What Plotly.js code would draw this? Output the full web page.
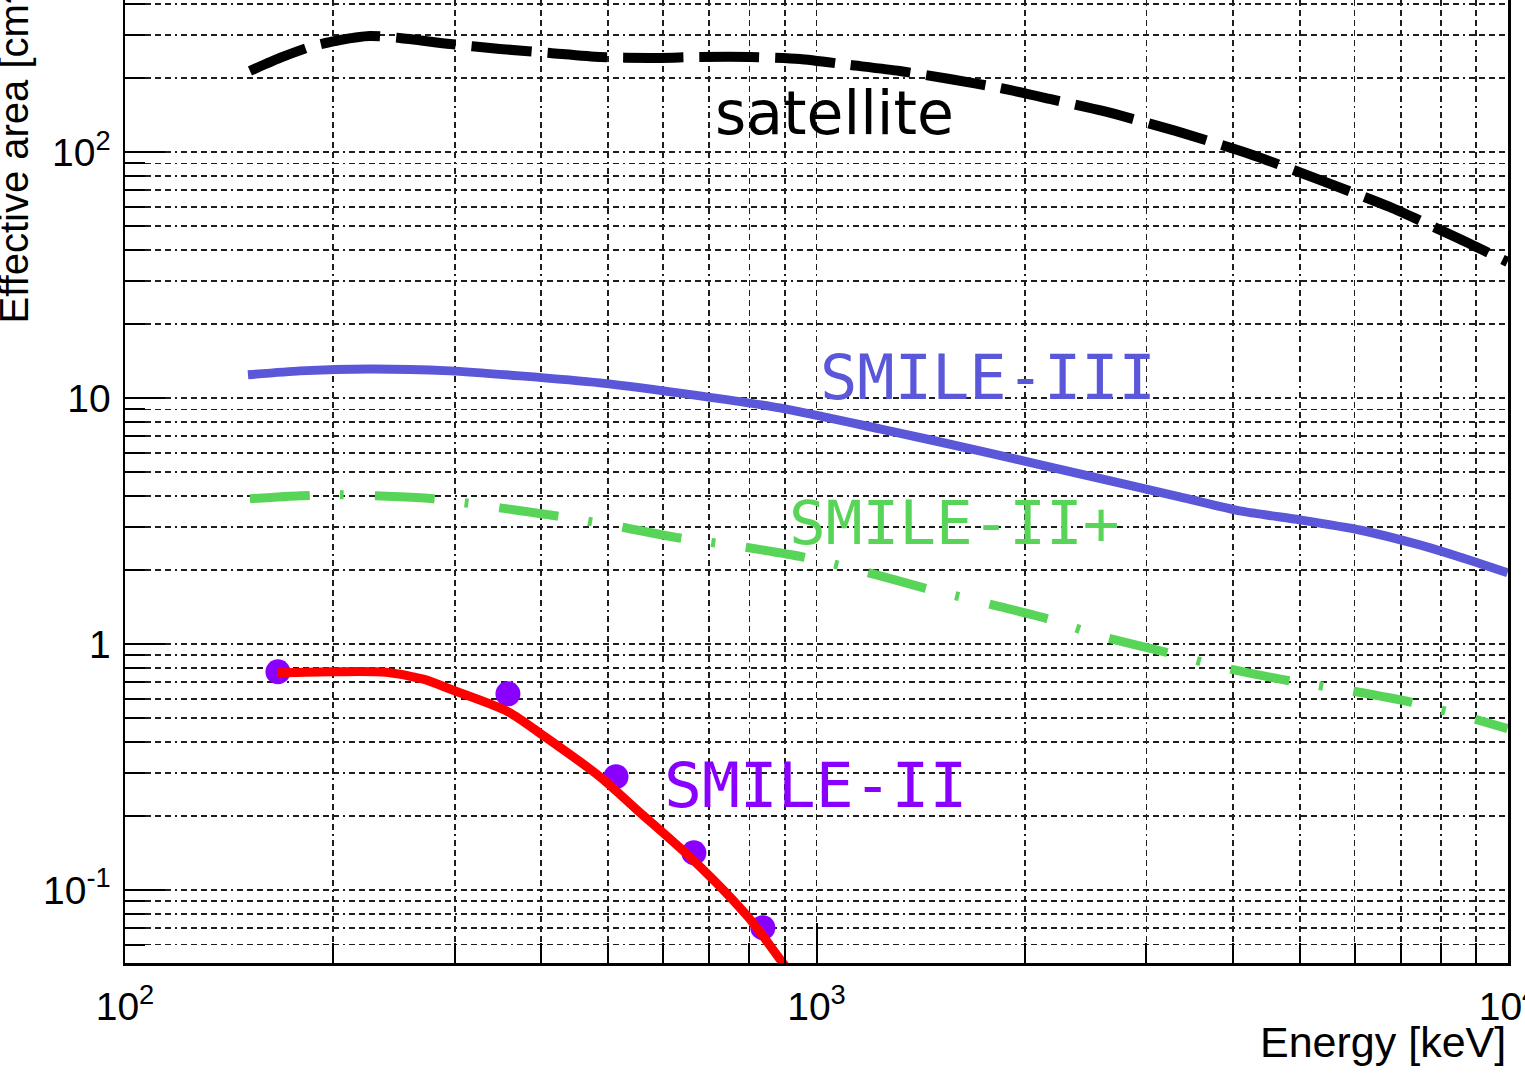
<!DOCTYPE html>
<html>
<head>
<meta charset="utf-8">
<script src="https://cdn.plot.ly/plotly-3.0.1.min.js"></script>
<style>html,body{margin:0;padding:0;background:#fff;overflow:hidden;}#chart{width:1525px;height:1078px;}</style>
</head>
<body>
<div id="chart"></div>
<script>
// ---- data ----
const satE = [151.6,167.5,185.1,204.6,226.1,249.7,295.1,348.5,411.6,486.1,574.1,678.1,800.9,946,1117,1319,1558,1841,2174,2594,3306,4230,5341,6743,8455,9986];
const satA = [214.0,241.7,267.9,286.1,297.0,291.5,275.5,263.0,253.3,244.0,241.7,244.0,244.0,239.5,226.4,214.0,198.6,182.5,164.7,147.2,122.1,98.4,77.2,59.9,44.8,35.8];

const s3E = [150.6,179.1,226.1,295.1,372.5,486.1,678.1,885.0,1235,1722,2403,3351,4093,4996,6103,7452,8511,9986];
const s3A = [12.44,12.91,13.15,12.91,12.32,11.54,10.22,9.13,7.50,6.11,4.92,3.97,3.48,3.20,2.91,2.53,2.26,1.95];

const s2pE = [151.6,179.1,204.6,249.7,278.8,311.2,348.5,421.3,519.4,634.4,779.8,955.4,1174,1434,1841,2174,2568,3188,3893,4834,5805,7207,8800,9986];
const s2pA = [3.90,4.01,4.05,3.97,3.90,3.75,3.58,3.32,3.00,2.70,2.49,2.26,1.97,1.69,1.42,1.26,1.08,0.930,0.801,0.709,0.652,0.582,0.502,0.453];

const s2FitE = [166.4,200.6,238.4,270.0,297.0,357.9,404.8,486.1,549.9,662.6,795.6,891.1,946];
const s2FitA = [0.764,0.772,0.768,0.720,0.652,0.531,0.420,0.289,0.212,0.1328,0.0779,0.0511,0.041];

const s2PtE = [166.4,357.9,512.9,664.8,836.3];
const s2PtA = [0.772,0.628,0.289,0.1418,0.0703];

const xMajorVals = [100,1000,10000];
const xMajorText = ['10<sup>2</sup>','10<sup>3</sup>','10<sup>4</sup>'];
const xMinorVals = [200,300,400,500,600,700,800,900,2000,3000,4000,5000,6000,7000,8000,9000];
const yMajorVals = [0.1,1,10,100];
const yMajorText = ['10<sup>-1</sup>','1','10','10<sup>2</sup>'];
const yMinorVals = [0.06,0.07,0.08,0.09,0.2,0.3,0.4,0.5,0.6,0.7,0.8,0.9,2,3,4,5,6,7,8,9,20,30,40,50,60,70,80,90,200,300,400];

const labelText = ['satellite','SMILE-III','SMILE-II+','SMILE-II'];

// ---- styling ----
const gridDash = '6px,4px,6px,4px,6px,4px,6px,4px,6px,4px,2px,4px';
const gridColor = '#1e1e1e';
const axisFont = {family:'"Liberation Sans", Arial, sans-serif', size:39, color:'#000'};

const traces = [
  {x:satE, y:satA, mode:'lines', line:{color:'#000', width:10, dash:'60px,16px', shape:'spline', smoothing:0.6}, hoverinfo:'skip'},
  {x:s3E, y:s3A, mode:'lines', line:{color:'#5b57d9', width:9, shape:'spline', smoothing:0.6}, hoverinfo:'skip'},
  {x:s2pE, y:s2pA, mode:'lines', line:{color:'#58d558', width:9, dash:'60px,30px,4px,31px', shape:'spline', smoothing:0.6}, hoverinfo:'skip'},
  {x:s2PtE, y:s2PtA, mode:'markers', marker:{color:'#8a00ff', size:25}, hoverinfo:'skip'},
  {x:s2FitE, y:s2FitA, mode:'lines', line:{color:'#ff0000', width:9, shape:'spline', smoothing:0.8}, hoverinfo:'skip'}
];

const axCommon = {
  type:'log', ticks:'inside', ticklen:40, tickwidth:2, tickcolor:'#000',
  showgrid:true, gridcolor:gridColor, gridwidth:1.8, griddash:gridDash,
  showline:true, linecolor:'#000', linewidth:2.5, zeroline:false,
  tickfont:axisFont, automargin:false, tickmode:'array', ticklabeloverflow:'allow'
};

const layout = {
  width:1525, height:1078,
  margin:{l:125, r:17, t:0, b:115},
  paper_bgcolor:'#fff', plot_bgcolor:'#fff',
  showlegend:false,
  xaxis:Object.assign({}, axCommon, {
    range:[2,4], tickvals:xMajorVals, ticktext:xMajorText, mirror:false, ticklabelstandoff:8,
    minor:{tickmode:'array', tickvals:xMinorVals, ticks:'inside', ticklen:20, tickwidth:2, tickcolor:'#000',
           showgrid:true, gridcolor:gridColor, gridwidth:1.8, griddash:gridDash}
  }),
  yaxis:Object.assign({}, axCommon, {
    range:[Math.log10(0.0505), 2.619], tickvals:yMajorVals, ticktext:yMajorText, mirror:true, ticklabelstandoff:4,
    minor:{tickmode:'array', tickvals:yMinorVals, ticks:'inside', ticklen:20, tickwidth:2, tickcolor:'#000',
           showgrid:true, gridcolor:gridColor, gridwidth:1.8, griddash:gridDash}
  }),
  annotations:[
    {text:labelText[0], xref:'paper', yref:'paper', x:0.5127, y:0.8827, xanchor:'center', yanchor:'middle', showarrow:false,
     font:{family:'"DejaVu Sans", sans-serif', size:60, color:'#000'}},
    {text:labelText[1], xref:'paper', yref:'paper', x:0.624, y:0.6075, xanchor:'center', yanchor:'middle', showarrow:false,
     font:{family:'"DejaVu Sans Mono", monospace', size:62, color:'#5b57d9'}},
    {text:labelText[2], xref:'paper', yref:'paper', x:0.6001, y:0.4579, xanchor:'center', yanchor:'middle', showarrow:false,
     font:{family:'"DejaVu Sans Mono", monospace', size:61, color:'#58d558'}},
    {text:labelText[3], xref:'paper', yref:'paper', x:0.4996, y:0.1848, xanchor:'center', yanchor:'middle', showarrow:false,
     font:{family:'"DejaVu Sans Mono", monospace', size:63, color:'#8a00ff'}},
    {text:'Effective area [cm<sup>2</sup>]', xref:'paper', yref:'paper', x:-0.0817, y:0.662, xanchor:'center', yanchor:'bottom',
     textangle:-90, showarrow:false, font:{family:'"Liberation Sans", Arial, sans-serif', size:40, color:'#000'}},
    {text:'Energy [keV]', xref:'paper', yref:'paper', x:1, y:-0.082, xanchor:'right', yanchor:'middle', showarrow:false,
     font:{family:'"Liberation Sans", Arial, sans-serif', size:43, color:'#000'}}
  ]
};

Plotly.newPlot('chart', traces, layout, {staticPlot:true, displayModeBar:false});
</script>
</body>
</html>
